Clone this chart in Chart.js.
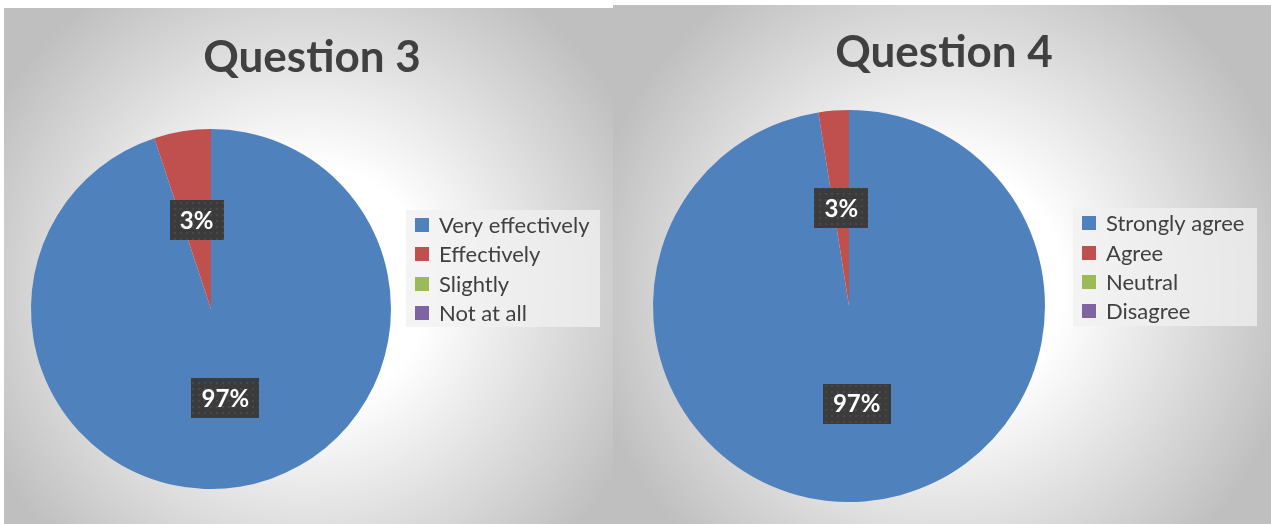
<!DOCTYPE html>
<html>
<head>
<meta charset="utf-8">
<script src="https://cdn.jsdelivr.net/npm/chart.js@4/dist/chart.umd.min.js"></script>
<style>
    body { margin: 0; width: 1271px; height: 524px; background: #fff; position: relative; overflow: hidden; }
    .panel { position: absolute; background: radial-gradient(circle at 50% 54%, #ffffff 0px, #ffffff 120px, #bfbfbf 360px); }
    .panel canvas { display: block; }
</style>
</head>
<body>
<div class="panel" style="left:4px;top:8px;width:609px;height:516px"><canvas id="q3Chart" width="609" height="516"></canvas></div>
<div class="panel" style="left:613px;top:5px;width:658px;height:519px"><canvas id="q4Chart" width="658" height="519"></canvas></div>

<script>
// Question 3
const q3Categories = ['Very effectively', 'Effectively', 'Slightly', 'Not at all'];
const q3Values = [94.9, 5.1, 0, 0];
const q3ValueLabels = ['97%', '3%', '', ''];

// Question 4
const q4Categories = ['Strongly agree', 'Agree', 'Neutral', 'Disagree'];
const q4Values = [97.5, 2.5, 0, 0];
const q4ValueLabels = ['97%', '3%', '', ''];

const sliceColors = ['#4f81bd', '#c0504d', '#9bbb59', '#8064a2'];
const textColor = '#404040';
const fontFamily = 'Lato, "Open Sans", sans-serif';

/**
 * Dark dotted fill used behind the data labels
 */
function labelPattern(ctx) {
    const tile = document.createElement('canvas');
    tile.width = 6;
    tile.height = 6;
    const t = tile.getContext('2d');
    t.fillStyle = '#3b3b3b';
    t.fillRect(0, 0, 6, 6);
    t.fillStyle = '#484848';
    t.beginPath();
    t.arc(3, 3, 1.3, 0, Math.PI * 2);
    t.fill();
    return ctx.createPattern(tile, 'repeat');
}

/**
 * Title, legend box and value labels (Excel style)
 */
const decorPlugin = {
    id: 'decor',
    afterDatasetsDraw(chart, args, opts) {
        const ctx = chart.ctx;
        const meta = chart.getDatasetMeta(0);
        ctx.save();
        ctx.font = 'bold 24px ' + fontFamily;
        ctx.textAlign = 'center';
        ctx.textBaseline = 'middle';
        meta.data.forEach((arc, i) => {
            const text = opts.valueLabels[i];
            if (!text) return;
            const pos = arc.tooltipPosition();
            const w = Math.round(ctx.measureText(text).width + 20);
            const h = 40;
            ctx.fillStyle = labelPattern(ctx);
            ctx.fillRect(Math.round(pos.x - w / 2), Math.round(pos.y - h / 2), w, h);
            ctx.fillStyle = '#ffffff';
            ctx.fillText(text, pos.x, pos.y + 1);
        });
        ctx.restore();
    },
    afterDraw(chart, args, opts) {
        const ctx = chart.ctx;
        ctx.save();

        // title
        ctx.fillStyle = textColor;
        ctx.font = 'bold 44px ' + fontFamily;
        ctx.textAlign = 'center';
        ctx.textBaseline = 'middle';
        ctx.fillText(opts.title, opts.titleX, opts.titleY);

        // legend
        const box = opts.legendBox;
        ctx.fillStyle = 'rgba(240, 240, 240, 0.75)';
        ctx.fillRect(box.x, box.y, box.w, box.h);
        ctx.font = '22px ' + fontFamily;
        ctx.textAlign = 'left';
        chart.data.labels.forEach((label, i) => {
            const cy = opts.legendFirstY + i * opts.legendStep;
            ctx.fillStyle = chart.data.datasets[0].backgroundColor[i];
            ctx.fillRect(box.x + 9, Math.round(cy - 7), 14, 14);
            ctx.fillStyle = textColor;
            ctx.fillText(label, box.x + 33, cy + 1);
        });
        ctx.restore();
    }
};

function makePie(canvasId, labels, values, padding, decor) {
    return new Chart(document.getElementById(canvasId), {
        type: 'pie',
        data: {
            labels: labels,
            datasets: [{
                data: values,
                backgroundColor: sliceColors,
                borderWidth: 0,
                hoverBorderWidth: 0,
                hoverOffset: 0
            }]
        },
        options: {
            responsive: false,
            animation: false,
            events: [],
            layout: { padding: padding },
            plugins: {
                legend: { display: false },
                tooltip: { enabled: false },
                decor: decor
            }
        },
        plugins: [decorPlugin]
    });
}

makePie('q3Chart', q3Categories, q3Values,
    { left: 27, right: 222, top: 121, bottom: 35 },
    {
        title: 'Question 3', titleX: 308, titleY: 50,
        legendBox: { x: 402, y: 202, w: 194, h: 117 },
        legendFirstY: 217, legendStep: 29.4,
        valueLabels: q3ValueLabels
    });

makePie('q4Chart', q4Categories, q4Values,
    { left: 40, right: 226, top: 105, bottom: 22 },
    {
        title: 'Question 4', titleX: 331, titleY: 48,
        legendBox: { x: 460, y: 203, w: 184, h: 118 },
        legendFirstY: 218.3, legendStep: 29.3,
        valueLabels: q4ValueLabels
    });
</script>
</body>
</html>
